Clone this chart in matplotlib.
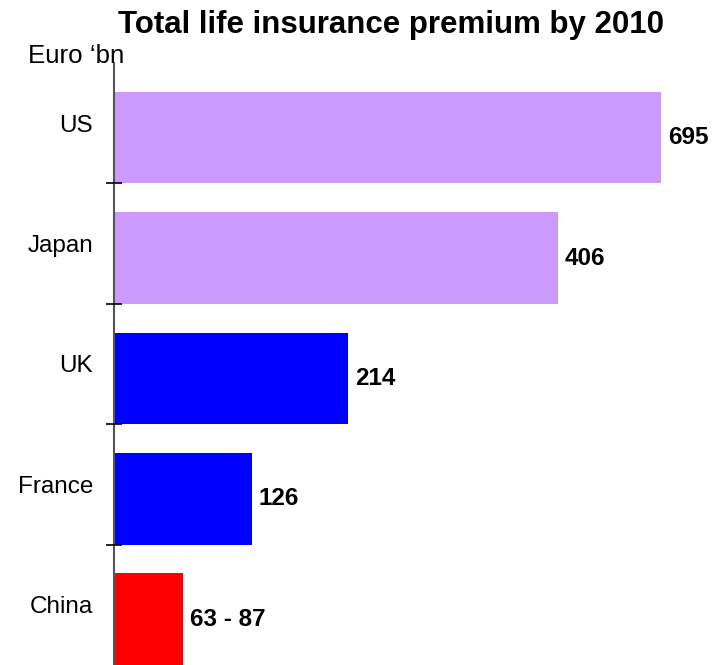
import matplotlib
matplotlib.use("Agg")
import matplotlib.pyplot as plt

countries = ["US", "Japan", "UK", "France", "China"]
values = [695, 406, 214, 126, 63]
value_labels = ["695", "406", "214", "126", "63 - 87"]
colors = ["#CC99FF", "#CC99FF", "#0000FF", "#0000FF", "#FF0000"]
x_max = 500

plt.rcParams['font.family'] = ['Liberation Sans', 'DejaVu Sans']

fig = plt.figure(figsize=(7.25, 6.65), dpi=100)
ax = fig.add_axes([114/725, 0.0, 547/725, 602/665])
ax.set_axisbelow(False)

n = len(countries)
ypos = [i + 0.62 for i in range(n)]
ax.barh(ypos, values, height=0.76, color=colors, edgecolor='none')
ax.set_xlim(0, x_max)
ax.set_ylim(n, 0)

for y, v, lab in zip(ypos, values, value_labels):
    ax.annotate(lab, xy=(min(v, x_max), y), xytext=(5, 0), textcoords='offset points',
                ha='left', va='center', fontsize=17.5, fontweight='bold', annotation_clip=False)

ax.set_yticks([i + 0.5 for i in range(n)])
ax.set_yticklabels(countries, fontsize=17.5)
ax.tick_params(axis='y', which='major', length=0, pad=15)
ax.set_yticks(list(range(1, n)), minor=True)
ax.tick_params(axis='y', which='minor', length=11.5, direction='inout', width=1.2, color='black')
ax.set_xticks([])
for s in ['top', 'right', 'bottom']:
    ax.spines[s].set_visible(False)
ax.spines['left'].set_color('#555555')
ax.spines['left'].set_linewidth(1.5)

fig.text(391/725, 1 - 25/665, "Total life insurance premium by 2010", ha='center', va='center',
         fontsize=22.5, fontweight='bold')
fig.text(28/725, 1 - 56/665, "Euro \u2018bn", ha='left', va='center', fontsize=18.6)

fig.savefig("out.png", dpi=100)
